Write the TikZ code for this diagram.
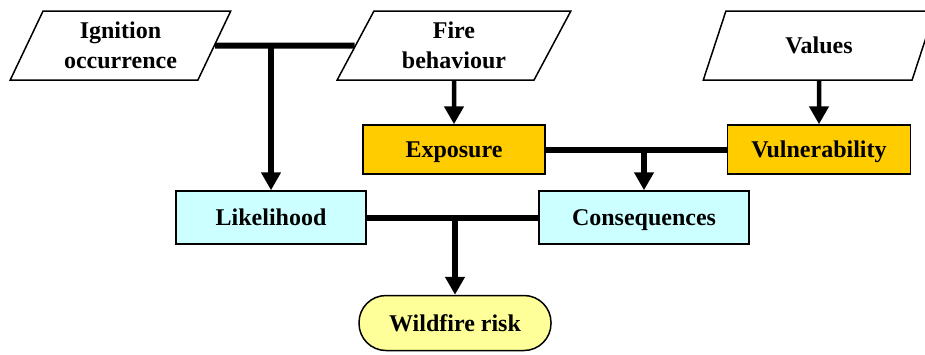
\documentclass[tikz,border=0pt]{standalone}
\usepackage{fontspec}
\setmainfont{Liberation Serif}
\usetikzlibrary{arrows.meta,shapes.geometric}
\definecolor{expoc}{HTML}{FFCC00}
\definecolor{likc}{HTML}{CCFFFF}
\definecolor{riskc}{HTML}{FFFF99}
\begin{document}
\begin{tikzpicture}[x=1pt,y=-1pt,
  font=\fontsize{24}{30}\selectfont\bfseries,
  inbox/.style={trapezium, trapezium left angle=63, trapezium right angle=117,
    trapezium stretches=true, minimum height=69pt, draw, line width=1.5pt,
    fill=white, align=center, inner sep=0pt},
  ybox/.style={rectangle, draw, line width=1.5pt, fill=expoc, minimum height=49pt,
    inner sep=0pt, text height=16pt, text depth=0pt},
  cbox/.style={rectangle, draw, line width=1.5pt, fill=likc, minimum height=53pt,
    inner sep=0pt, text height=16pt, text depth=0pt},
  rbox/.style={rectangle, rounded corners=27pt, draw, line width=1.5pt, fill=riskc,
    minimum width=192pt, minimum height=55pt, inner sep=0pt, text height=16pt, text depth=0pt},
  trunk/.style={line width=6pt},
  tip/.style={-{Triangle[width=19pt,length=18pt]}},
  feed/.style={line width=4.5pt, -{Triangle[width=19pt,length=18pt]}}
]
\useasboundingbox (0,0) rectangle (925,354);

% inputs
\node[inbox, minimum width=221pt] (ign) at (120.5,45.5) {Ignition\\occurrence};
\node[inbox, minimum width=234pt] (fire) at (454,45.5) {Fire\\behaviour};
\node[inbox, minimum width=233pt, text height=16pt, text depth=0pt] (val) at (819,45.5) {Values};

% middle boxes
\node[ybox, minimum width=182pt] (exp) at (454,149.5) {Exposure};
\node[ybox, minimum width=183pt] (vul) at (819,149.5) {Vulnerability};

\node[cbox, minimum width=190pt] (lik) at (271,217.5) {Likelihood};
\node[cbox, minimum width=210pt] (cons) at (644,217.5) {Consequences};

\node[rbox] (risk) at (455,323) {Wildfire risk};

% connectors
\coordinate (j1) at (271,45.5);
\coordinate (j2) at (644,149.5);
\coordinate (j3) at (455,217.5);

\draw[trunk] (ign) -- (fire);
\draw[trunk,tip] (j1) -- (lik);

\draw[feed] (fire) -- (exp);
\draw[feed] (val) -- (vul);

\draw[trunk] (exp) -- (vul);
\draw[trunk,tip] (j2) -- (cons);

\draw[trunk] (lik) -- (cons);
\draw[trunk,tip] (j3) -- (risk);
\end{tikzpicture}
\end{document}
